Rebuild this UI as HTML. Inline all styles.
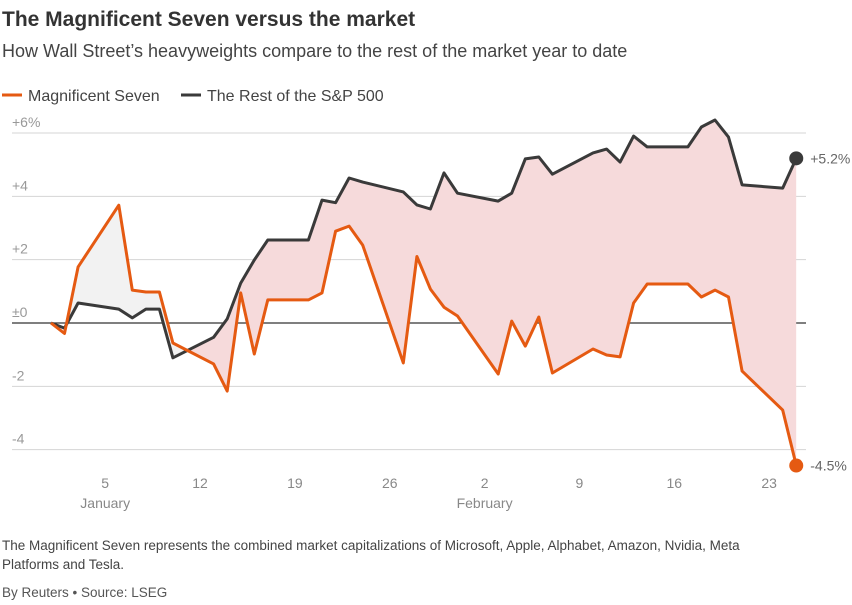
<!DOCTYPE html>
<html><head><meta charset="utf-8">
<style>
body{margin:0;background:#fff;font-family:"Liberation Sans",sans-serif;}
svg text{font-family:"Liberation Sans",sans-serif;}
</style></head>
<body>
<svg width="852" height="600" viewBox="0 0 852 600">
<text x="2" y="26" font-size="21" font-weight="bold" fill="#333">The Magnificent Seven versus the market</text>
<text x="2" y="57" font-size="18" fill="#444">How Wall Street’s heavyweights compare to the rest of the market year to date</text>
<g>
<g><line x1="2" y1="95" x2="22" y2="95" stroke="#e55a12" stroke-width="3"/><text x="28" y="101" font-size="16" fill="#444">Magnificent Seven</text></g>
<g><line x1="181" y1="95" x2="201" y2="95" stroke="#3a3a3a" stroke-width="3"/><text x="207" y="101" font-size="16" fill="#444">The Rest of the S&amp;P 500</text></g>
</g>
<g id="grid"></g>
<g id="fills"></g>
<g id="lines"></g>
<g id="xaxis"></g>
<text x="2" y="550" font-size="13.5" fill="#444">The Magnificent Seven represents the combined market capitalizations of Microsoft, Apple, Alphabet, Amazon, Nvidia, Meta</text>
<text x="2" y="569" font-size="13.5" fill="#444">Platforms and Tesla.</text>
<text x="2" y="597" font-size="13.5" fill="#555">By Reuters • Source: LSEG</text>
</svg>
<script>
const magDays=[0,1,2,5,6,7,8,9,12,13,14,15,16,19,20,21,22,23,26,27,28,29,30,33,34,35,36,37,40,41,42,43,44,47,48,49,50,51,54,55];
const magVals=[0,-0.33,1.77,3.72,1.04,0.98,0.98,-0.63,-1.29,-2.15,0.95,-0.98,0.73,0.73,0.95,2.9,3.06,2.46,-1.26,2.1,1.07,0.5,0.22,-1.61,0.06,-0.73,0.19,-1.58,-0.82,-1.01,-1.07,0.63,1.23,1.23,0.82,1.04,0.82,-1.52,-2.75,-4.5];
const restDays=[0,1,2,5,6,7,8,9,12,13,14,15,16,19,20,21,22,23,26,27,28,29,30,33,34,35,36,37,40,41,42,43,44,47,48,49,50,51,54,55];
const restVals=[0,-0.16,0.63,0.44,0.16,0.44,0.44,-1.1,-0.45,0.13,1.26,1.99,2.62,2.62,3.88,3.8,4.58,4.45,4.14,3.73,3.6,4.74,4.1,3.85,4.1,5.18,5.24,4.7,5.37,5.49,5.08,5.9,5.56,5.56,6.19,6.41,5.87,4.36,4.26,5.2];
const yTicks=[6,4,2,0,-2,-4];
const yTickLabels=["+6%","+4","+2","±0","-2","-4"];
const xTickDays=[4,11,18,25,32,39,46,53];
const xTickLabels=["5","12","19","26","2","9","16","23"];
const monthDays=[4,32];
const monthLabels=["January","February"];
const NS="http://www.w3.org/2000/svg";
const X=d=>51+d*13.55;
const Y=v=>323-v*31.67;
function mk(tag,attrs,parent){const e=document.createElementNS(NS,tag);for(const k in attrs)e.setAttribute(k,attrs[k]);parent.appendChild(e);return e;}
const grid=document.getElementById('grid');
yTicks.forEach((t,i)=>{
 const l=mk('line',{x1:12,x2:806,y1:Y(t),y2:Y(t),stroke:t===0?'#333':'#d4d4d4','stroke-width':t===0?1.2:1},grid);
 
 
 const tx=mk('text',{x:12,y:Y(t)-6,'font-size':14,fill:'#999'},grid);
 tx.textContent=yTickLabels[i];
 
 
});
// cover grid under label start region: gridlines start after labels
const xa=document.getElementById('xaxis');
xTickDays.forEach((d,i)=>{
 const t=mk('text',{x:X(d),y:488,'font-size':14,fill:'#888','text-anchor':'middle'},xa);
 t.textContent=xTickLabels[i];
 
 
});
monthDays.forEach((d,i)=>{
 const t=mk('text',{x:X(d),y:508,'font-size':14,fill:'#888','text-anchor':'middle'},xa);
 t.textContent=monthLabels[i];
 
 
});
const magPts=magDays.map((d,i)=>[X(d),Y(magVals[i])]);
const restPts=restDays.map((d,i)=>[X(d),Y(restVals[i])]);
const ptsStr=p=>p.map(q=>q[0].toFixed(1)+','+q[1].toFixed(1)).join(' ');
const fills=document.getElementById('fills');
const defs=mk('defs',{},fills);
const cAbove=mk('clipPath',{id:'above'},defs);
mk('polygon',{points:ptsStr([[restPts[0][0],0],...restPts,[restPts[restPts.length-1][0],0]])},cAbove);
const cBelow=mk('clipPath',{id:'below'},defs);
mk('polygon',{points:ptsStr([[restPts[0][0],600],...restPts,[restPts[restPts.length-1][0],600]])},cBelow);
const between=ptsStr([...magPts,...restPts.slice().reverse()]);
const f1=mk('polygon',{points:between,fill:'#f6dadb','clip-path':'url(#below)'},fills);


const f2=mk('polygon',{points:between,fill:'#f2f2f2','clip-path':'url(#above)'},fills);


const lines=document.getElementById('lines');
const lr=mk('polyline',{points:ptsStr(restPts),fill:'none',stroke:'#3a3a3a','stroke-width':3,'stroke-linejoin':'round'},lines);


const lm=mk('polyline',{points:ptsStr(magPts),fill:'none',stroke:'#e55a12','stroke-width':3,'stroke-linejoin':'round'},lines);


const lastR=restPts[restPts.length-1], lastM=magPts[magPts.length-1];
const dr=mk('circle',{cx:lastR[0],cy:lastR[1],r:7,fill:'#3a3a3a'},lines);


const dm=mk('circle',{cx:lastM[0],cy:lastM[1],r:7,fill:'#e55a12'},lines);


const tr=mk('text',{x:lastR[0]+14,y:lastR[1]+5,'font-size':14,fill:'#666'},lines);
tr.textContent=(restVals[restVals.length-1]>=0?'+':'')+restVals[restVals.length-1].toFixed(1)+'%';


const tm=mk('text',{x:lastM[0]+14,y:lastM[1]+5,'font-size':14,fill:'#666'},lines);
tm.textContent=magVals[magVals.length-1].toFixed(1)+'%';


</script>
</body></html>
